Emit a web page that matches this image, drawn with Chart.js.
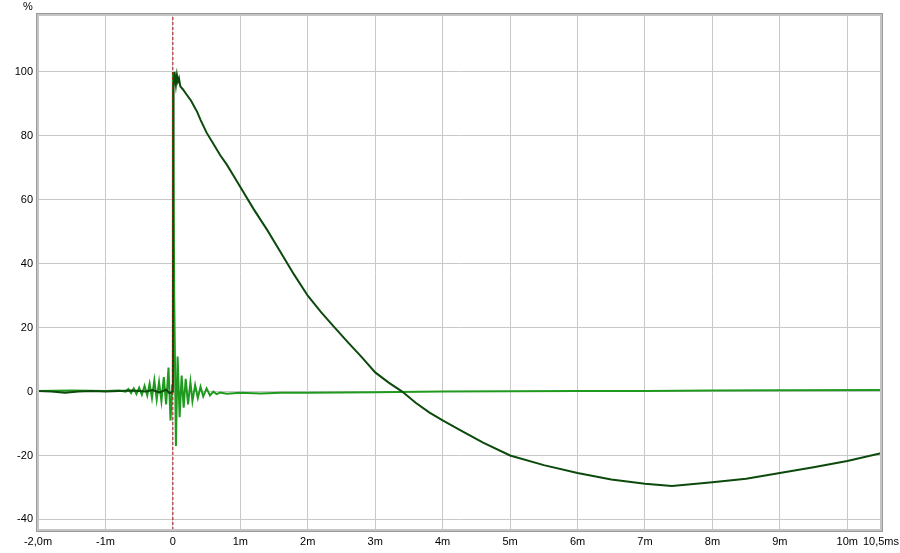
<!DOCTYPE html>
<html>
<head>
<meta charset="utf-8">
<script src="https://cdn.jsdelivr.net/npm/chart.js@4/dist/chart.umd.min.js"></script>
<style>
html,body{margin:0;padding:0;background:#fff;}
#wrap{width:900px;height:553px;position:relative;}
</style>
</head>
<body>
<div id="wrap"><canvas id="c" width="900" height="553"></canvas></div>
<script>
// Time axis ticks (ms) and labels
const xTicks = [-2,-1,0,1,2,3,4,5,6,7,8,9,10,10.5];
const xLabels = ["-2,0m","-1m","0","1m","2m","3m","4m","5m","6m","7m","8m","9m","10m","10,5ms"];
const yTicks = [-40,-20,0,20,40,60,80,100];

// Step response (dark green)
const stepT = [-2.0,-1.8,-1.6,-1.4,-1.2,-1.0,-0.8,-0.6,-0.4,-0.3,-0.2,-0.1,-0.05,0,0.01,0.025,0.045,0.06,0.075,0.09,0.11,0.15,0.2,0.27,0.32,0.36,0.41,0.5,0.6,0.7,0.8,0.9,1.0,1.2,1.4,1.6,1.8,2.0,2.2,2.4,2.6,2.8,3.0,3.2,3.4,3.6,3.8,4.0,4.3,4.6,5.0,5.5,6.0,6.5,7.0,7.4,8.0,8.5,9.0,9.5,10.0,10.5];
const stepV = [0.2,0,-0.4,0,0.2,0,0.2,0.3,0,0.5,-0.3,0.6,-0.5,0,95,100,96,99,97,98,95.5,94.5,93,91,89,87.5,85,81,77.5,74,71,67.5,64,57,50.5,43.5,36.5,30,24.8,20,15.3,10.8,6,2.8,0,-3.5,-6.5,-9,-12.5,-16,-20,-23,-25.5,-27.5,-28.8,-29.5,-28.4,-27.3,-25.5,-23.7,-21.7,-19.3];

// Impulse response (bright green)
const impT = [-2.0,-1.5,-1.0,-0.8,-0.7,-0.66,-0.62,-0.58,-0.54,-0.50,-0.46,-0.42,-0.38,-0.345,-0.31,-0.275,-0.24,-0.205,-0.17,-0.135,-0.10,-0.065,-0.035,-0.01,0.0,0.02,0.045,0.07,0.10,0.13,0.16,0.19,0.225,0.26,0.29,0.33,0.37,0.41,0.45,0.50,0.55,0.60,0.65,0.7,0.8,1.0,1.3,1.6,2.0,2.5,3.0,4.0,5.0,6.0,7.0,8.0,9.0,10.5];
const impV = [0.2,0.3,0.2,0.3,0,0.8,-0.5,1.0,-0.8,1.2,-1.0,1.8,-1.2,2.5,-2.0,3.5,-2.5,3.0,-3.0,4.5,-4.0,7.5,-9.0,2,100,30,-17,11,-8,5,-5,4,-4,3,-3,2,-2,1.5,-1.5,1,-1.2,0,-0.8,-0.3,-0.7,-0.4,-0.6,-0.4,-0.4,-0.3,-0.2,0,0.1,0.2,0.2,0.3,0.4,0.5];

// Reference marker at time zero
const markerT = [0];

const Y_MIN = -43.3, Y_MAX = 117.8, X_MIN = -2, X_MAX = 10.5;

const pts = (t, v) => t.map((x, i) => ({x: x, y: v[i]}));

const framePlugin = {
  id: 'frame',
  afterDraw(chart) {
    const {ctx, chartArea: a} = chart;
    ctx.save();
    ctx.strokeStyle = '#9a9a9a';
    ctx.lineWidth = 1;
    ctx.strokeRect(a.left - 1.5, a.top - 1.5, a.right - a.left + 3, a.bottom - a.top + 3);
    ctx.strokeStyle = '#c4c4c4';
    ctx.lineWidth = 2;
    ctx.strokeRect(a.left, a.top, a.right - a.left, a.bottom - a.top);
    ctx.fillStyle = '#000';
    ctx.font = '11px "Liberation Sans", Arial, sans-serif';
    ctx.textAlign = 'center';
    ctx.textBaseline = 'middle';
    ctx.fillText('%', 28, 7);
    ctx.restore();
  }
};

new Chart(document.getElementById('c'), {
  type: 'line',
  data: {
    datasets: [
      {
        label: 'impulse',
        data: pts(impT, impV),
        borderColor: '#1f9a1f',
        borderWidth: 2,
        pointRadius: 0,
        tension: 0,
        order: 2
      },
      {
        label: 'step',
        data: pts(stepT, stepV),
        borderColor: '#0c4a0c',
        borderWidth: 2,
        pointRadius: 0,
        tension: 0,
        order: 1
      },
      {
        label: 'marker',
        data: [{x: markerT[0], y: Y_MIN}, {x: markerT[0], y: Y_MAX}],
        borderColor: '#b01010',
        borderWidth: 1,
        borderDash: [3, 2],
        pointRadius: 0,
        order: 0
      }
    ]
  },
  options: {
    responsive: false,
    animation: false,
    events: [],
    layout: {padding: {top: 15, right: 19, left: 0, bottom: 0}},
    plugins: {legend: {display: false}, tooltip: {enabled: false}},
    scales: {
      x: {
        type: 'linear',
        min: X_MIN, max: X_MAX,
        afterBuildTicks(s) { s.ticks = xTicks.map(v => ({value: v})); },
        afterFit(s) { s.height = 23; s.paddingLeft = 0; s.paddingRight = 0; },
        grid: {color: '#c8c8c8', lineWidth: 1, drawTicks: false},
        border: {display: false},
        ticks: {
          autoSkip: false, maxRotation: 0, padding: 5,
          color: '#000',
          font: {family: '"Liberation Sans", Arial, sans-serif', size: 11},
          callback(v) { const i = xTicks.indexOf(v); return i >= 0 ? xLabels[i] : ''; }
        }
      },
      y: {
        type: 'linear',
        min: Y_MIN, max: Y_MAX,
        afterBuildTicks(s) { s.ticks = yTicks.map(v => ({value: v})); },
        afterFit(s) { s.width = 38; s.paddingTop = 0; s.paddingBottom = 0; },
        grid: {color: '#c8c8c8', lineWidth: 1, drawTicks: false},
        border: {display: false},
        ticks: {
          padding: 5, color: '#000',
          font: {family: '"Liberation Sans", Arial, sans-serif', size: 11},
          callback(v) { return String(v); }
        }
      }
    }
  },
  plugins: [framePlugin]
});
</script>
</body>
</html>
